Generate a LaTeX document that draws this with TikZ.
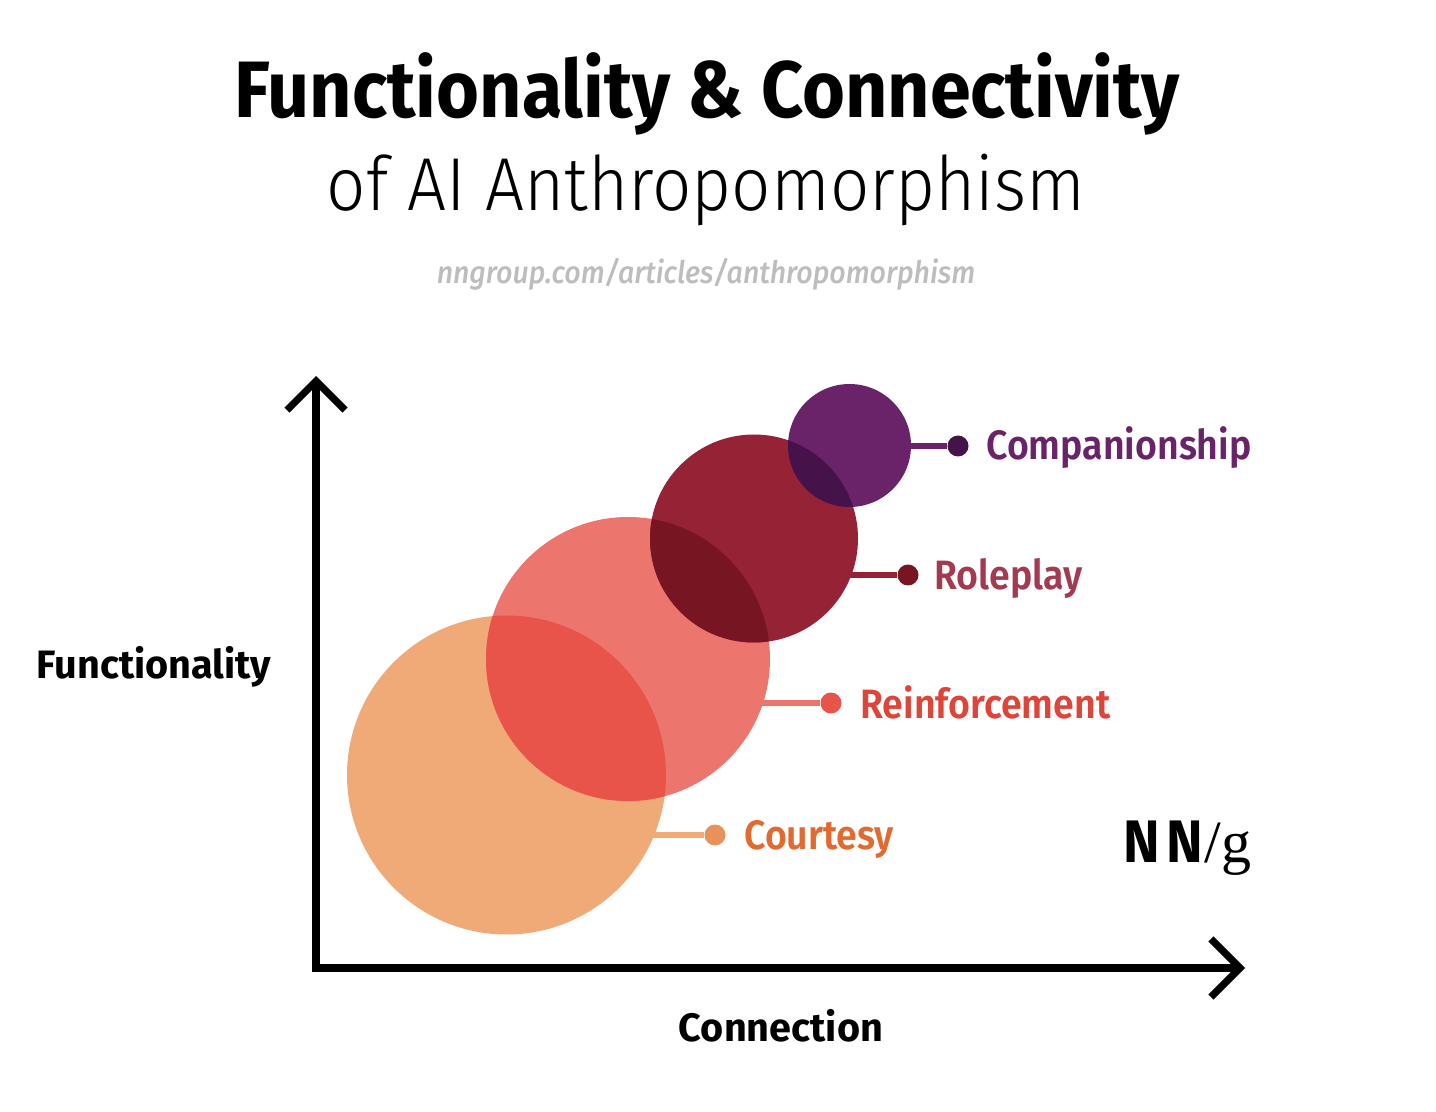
\documentclass[tikz,border=0pt]{standalone}
\usepackage{fontspec}
\setmainfont{Fira Sans}
\newfontfamily\narrowfont[FakeStretch=0.92]{Fira Sans}
\newfontfamily\semifont[FakeStretch=0.914]{Fira Sans SemiBold}
\newfontfamily\lightfont[FakeStretch=0.92]{Fira Sans Light}
\newfontfamily\urlfont[FakeStretch=0.92]{Fira Sans Medium Italic}
\newfontfamily\logoserif{Liberation Serif}
\usetikzlibrary{arrows.meta, positioning}

\definecolor{cCour}{HTML}{F0AA78}
\definecolor{cCourDot}{HTML}{E8915A}
\definecolor{cCourText}{HTML}{E06A30}
\definecolor{cRein}{HTML}{EC756D}
\definecolor{cReinDot}{HTML}{E8534A}
\definecolor{cReinText}{HTML}{DE4438}
\definecolor{cCourRein}{HTML}{E8534A}
\definecolor{cRole}{HTML}{962335}
\definecolor{cRoleDot}{HTML}{771622}
\definecolor{cRoleText}{HTML}{A33A50}
\definecolor{cReinRole}{HTML}{771622}
\definecolor{cComp}{HTML}{6A2369}
\definecolor{cCompDot}{HTML}{45134A}
\definecolor{cRoleComp}{HTML}{45134A}
\definecolor{cUrl}{HTML}{BDBDBD}

\tikzset{
    axis/.style={line width=3.6pt, line join=miter, {Straight Barb[length=14.5pt,width=29pt,line width=3.6pt]}-{Straight Barb[length=14.5pt,width=29pt,line width=3.6pt]}},
    link/.style={line width=3.3pt},
    dot/.style={circle, inner sep=0pt, minimum size=10.5pt},
    label/.style={anchor=base west, inner sep=0pt, font=\semifont\fontsize{20.5}{22}\selectfont},
    axislabel/.style={anchor=base, inner sep=0pt, font=\fontsize{19.8}{22}\selectfont\bfseries},
}

\begin{document}
\begin{tikzpicture}[x=0.5pt, y=-0.5pt]
    \useasboundingbox (0,0) rectangle (1436,1112);

    % titles
    \node[anchor=base] (title) at (707,118) {\narrowfont\fontsize{40}{42}\selectfont\bfseries Functionality \& Connectivity};
    \node[anchor=base] (subtitle) at (706,211) {\lightfont\fontsize{37.5}{40}\selectfont of AI Anthropomorphism};
    \node[anchor=base, text=cUrl] (url) at (706,284) {\urlfont\fontsize{15.5}{16}\selectfont nngroup.com/articles/anthropomorphism};

    % axes
    \coordinate (ytop) at (316,376);
    \coordinate (xend) at (1245,968);
    \draw[axis] (ytop) |- (xend);
    \node[axislabel] (ylab) at (154,678) {Functionality};
    \node[axislabel] (xlab) at (781,1041) {Connection};

    % bubble centres
    \coordinate (cour) at (506.5,775);
    \coordinate (rein) at (628,659);
    \coordinate (role) at (754,538.5);
    \coordinate (comp) at (849.5,445.5);

    % dots and labels
    \node[dot, fill=cCourDot] (courDot) at (715,835) {};
    \node[dot, fill=cReinDot] (reinDot) at (831,703) {};
    \node[dot, fill=cRoleDot] (roleDot) at (908,575) {};
    \node[dot, fill=cCompDot] (compDot) at (958,446) {};
    \node[label, text=cCourText] (courLab) at (744,849) {Courtesy};
    \node[label, text=cReinText] (reinLab) at (860,718) {Reinforcement};
    \node[label, text=cRoleText] (roleLab) at (934,589) {Roleplay};
    \node[label, text=cComp] (compLab) at (986,460) {Companionship};

    \draw[link, cCour] (courDot) -- (courDot -| cour);
    \draw[link, cRein] (reinDot) -- (reinDot -| rein);
    \draw[link, cRole] (roleDot) -- (roleDot -| role);
    \draw[link, cComp] (compDot) -- (compDot -| comp);

    % bubbles
    \fill[cCour] (cour) circle (159.5);
    \fill[cRein] (rein) circle (142);
    \begin{scope}
        \clip (rein) circle (142);
        \fill[cCourRein] (cour) circle (159.5);
    \end{scope}
    \fill[cRole] (role) circle (104);
    \begin{scope}
        \clip (role) circle (104);
        \fill[cReinRole] (rein) circle (142);
    \end{scope}
    \fill[cComp] (comp) circle (61.5);
    \begin{scope}
        \clip (comp) circle (61.5);
        \fill[cRoleComp] (role) circle (104);
    \end{scope}

    % logo
    \node[anchor=base east, inner sep=0pt] (logo) at (1252,862) {\narrowfont\fontsize{30}{32}\selectfont\bfseries N\kern3pt N\kern1pt{\logoserif\mdseries/g}};
\end{tikzpicture}
\end{document}
